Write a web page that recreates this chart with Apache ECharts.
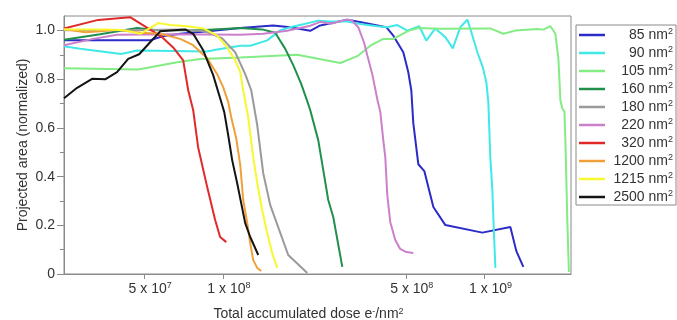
<!DOCTYPE html>
<html>
<head>
<meta charset="utf-8">
<script src="https://cdn.jsdelivr.net/npm/echarts@6/dist/echarts.min.js"></script>
<style>
  html, body { margin: 0; padding: 0; background: #fff; }
  #chart { width: 677px; height: 320px; }
</style>
</head>
<body>
<div id="chart"></div>
<script>
const FONT = "'Liberation Sans', Arial, sans-serif";
const AXIS_COLOR = "#8a8a8a";
const TEXT_COLOR = "#333";

const SIZES = ["85", "90", "105", "160", "180", "220", "320", "1200", "1215", "2500"];
const COLORS = ["#2b2bc8", "#40e8e8", "#84ec84", "#21904c", "#9a9a9a", "#cc80cc", "#e02a2a", "#f0a038", "#f8f830", "#141414"];

// dose in units of 1e8 e-/nm2, area normalized
const DOSE_85 = [0.247, 0.527, 0.586, 0.687, 0.918, 1.165, 1.557, 1.809, 1.975, 2.157, 2.355, 2.988, 3.263, 4.212, 4.481, 4.892, 5.112, 5.249, 5.342, 5.583, 5.886, 6.373, 7.084, 9.808, 12.55, 13.23, 14.07];
const AREA_85 = [0.960, 0.960, 0.977, 0.987, 0.999, 1.011, 1.021, 1.014, 1.007, 0.999, 1.021, 1.045, 1.037, 1.014, 0.979, 0.911, 0.829, 0.755, 0.620, 0.451, 0.423, 0.275, 0.201, 0.170, 0.193, 0.094, 0.029];

const DOSE_90 = [0.247, 0.2846, 0.4085, 0.470, 0.871, 0.951, 1.165, 1.272, 1.477, 1.656, 1.809, 2.028, 2.314, 2.582, 2.988, 3.35, 3.891, 4.249, 4.639, 5.068, 5.632, 5.99, 6.484, 7.084, 7.564, 8.08, 8.596, 8.905, 9.386, 9.851, 10.16, 10.34, 10.52, 10.71, 10.85, 11.0];
const AREA_90 = [0.936, 0.925, 0.904, 0.918, 0.914, 0.922, 0.938, 0.938, 0.960, 1.001, 1.014, 1.026, 1.041, 1.037, 1.037, 1.027, 1.018, 1.014, 1.023, 1.0, 1.018, 0.959, 1.009, 0.973, 0.927, 1.014, 1.045, 0.993, 0.911, 0.849, 0.788, 0.706, 0.480, 0.345, 0.181, 0.025];

const DOSE_105 = [0.247, 0.4744, 0.669, 0.819, 1.165, 1.924, 2.81, 3.263, 3.659, 4.102, 4.481, 5.112, 5.583, 6.78, 10.52, 11.80, 13.12, 15.92, 16.79, 17.85, 18.65, 19.15, 19.49, 19.84, 20.20, 20.37, 20.73, 21.01];
const AREA_105 = [0.845, 0.840, 0.870, 0.883, 0.890, 0.901, 0.867, 0.895, 0.938, 0.966, 0.966, 0.999, 1.011, 1.008, 1.009, 0.987, 1.0, 1.007, 1.004, 1.018, 0.987, 0.886, 0.714, 0.679, 0.667, 0.550, 0.209, 0.008];

const DOSE_160 = [0.247, 0.3395, 0.470, 0.561, 0.819, 1.165, 1.413, 1.585, 1.731, 1.857, 1.993, 2.101, 2.157, 2.314, 2.419, 2.527, 2.641, 2.860];
const AREA_160 = [0.962, 0.985, 1.011, 1.001, 1.001, 1.011, 1.005, 0.991, 0.925, 0.858, 0.780, 0.710, 0.673, 0.550, 0.427, 0.304, 0.234, 0.029];

const DOSE_180 = [0.247, 0.4418, 0.687, 0.856, 0.994, 1.114, 1.217, 1.283, 1.353, 1.426, 1.517, 1.777, 2.101];
const AREA_180 = [1.001, 1.001, 1.005, 0.997, 0.968, 0.911, 0.821, 0.755, 0.611, 0.414, 0.283, 0.078, 0.004];

const DOSE_220 = [0.247, 0.3192, 0.394, 0.657, 1.165, 1.426, 1.762, 2.157, 2.355, 2.582, 2.961, 3.094, 3.291, 3.470, 3.563, 3.723, 3.891, 3.996, 4.102, 4.175, 4.249, 4.363, 4.559, 4.76, 5.023, 5.342];
const AREA_220 = [0.940, 0.966, 0.983, 0.985, 0.983, 0.987, 0.999, 1.020, 1.036, 1.028, 1.045, 1.044, 1.014, 0.948, 0.899, 0.821, 0.718, 0.665, 0.550, 0.480, 0.324, 0.213, 0.140, 0.103, 0.090, 0.086];

const DOSE_320 = [0.247, 0.3335, 0.4418, 0.518, 0.586, 0.6455, 0.705, 0.737, 0.770, 0.804, 0.871, 0.934, 0.976, 1.030];
const AREA_320 = [1.009, 1.044, 1.055, 1.009, 0.973, 0.931, 0.878, 0.755, 0.673, 0.521, 0.357, 0.222, 0.152, 0.131];

const DOSE_1200 = [0.247, 0.2975, 0.3395, 0.394, 0.483, 0.576, 0.687, 0.770, 0.871, 0.951, 1.003, 1.048, 1.076, 1.124, 1.165, 1.196, 1.239, 1.272, 1.306, 1.353, 1.401];
const AREA_1200 = [1.007, 0.993, 0.997, 1.003, 0.991, 0.987, 0.966, 0.940, 0.886, 0.821, 0.767, 0.706, 0.644, 0.558, 0.447, 0.304, 0.209, 0.127, 0.057, 0.025, 0.012];

const DOSE_1215 = [0.247, 0.361, 0.423, 0.483, 0.566, 0.629, 0.730, 0.841, 0.951, 1.038, 1.114, 1.165, 1.196, 1.249, 1.306, 1.353, 1.413, 1.477, 1.543, 1.613];
const AREA_1215 = [1.005, 1.005, 1.001, 0.987, 1.031, 1.023, 1.018, 1.009, 0.979, 0.931, 0.878, 0.829, 0.755, 0.645, 0.480, 0.373, 0.263, 0.168, 0.086, 0.025];

const DOSE_2500 = [0.247, 0.2772, 0.3163, 0.3548, 0.394, 0.4344, 0.4786, 0.5227, 0.576, 0.7175, 0.770, 0.841, 0.918, 0.976, 1.012, 1.048, 1.085, 1.134, 1.217, 1.272, 1.365];
const AREA_2500 = [0.722, 0.765, 0.802, 0.800, 0.829, 0.884, 0.903, 0.948, 0.997, 1.005, 0.987, 0.919, 0.817, 0.722, 0.665, 0.570, 0.468, 0.373, 0.209, 0.152, 0.078];

const DOSES = [DOSE_85, DOSE_90, DOSE_105, DOSE_160, DOSE_180, DOSE_220, DOSE_320, DOSE_1200, DOSE_1215, DOSE_2500];
const AREAS = [AREA_85, AREA_90, AREA_105, AREA_160, AREA_180, AREA_220, AREA_320, AREA_1200, AREA_1215, AREA_2500];

const X_MIN = 2.47e7;
const X_MAX = 2.14e9;
const X_TICKS = [5e7, 1e8, 5e8, 1e9];
const X_TICK_MANT = ["5", "1", "5", "1"];
const X_TICK_EXP = ["7", "8", "8", "9"];
const Y_TICKS = [0, 0.2, 0.4, 0.6, 0.8, 1.0];

const chart = echarts.init(document.getElementById("chart"), null, { renderer: "canvas" });

// helper axis: labels/ticks at 5e7, 1e8 ... placed on a log10 scale matching the log axis
const xTickLogs = X_TICKS.map((v) => Math.log10(v));

chart.setOption({
  animation: false,
  backgroundColor: "#fff",
  textStyle: { fontFamily: FONT },
  grid: {
    left: 64,
    top: 16,
    right: 106,
    bottom: 46,
    outerBoundsMode: "none",
    show: true,
    borderColor: AXIS_COLOR,
    borderWidth: 1,
  },
  legend: {
    orient: "vertical",
    left: 576,
    top: 25,
    padding: [2, 3, 1, 3],
    icon: "rect",
    itemWidth: 26,
    itemHeight: 2.5,
    itemGap: 3,
    itemTextGap: 5,
    borderColor: AXIS_COLOR,
    borderWidth: 1,
    backgroundColor: "#fff",
    data: SIZES,
    formatter: (name) => `{n|${name} nm}{s|2}`,
    textStyle: {
      width: 63,
      color: TEXT_COLOR,
      fontFamily: FONT,
      rich: {
        n: { fontSize: 14, align: "right", lineHeight: 16, color: TEXT_COLOR, fontFamily: FONT },
        s: { fontSize: 9, align: "right", verticalAlign: "top", lineHeight: 10, color: TEXT_COLOR, fontFamily: FONT },
      },
    },
  },
  xAxis: [
    {
      type: "log",
      min: X_MIN,
      max: X_MAX,
      axisLine: { show: true, lineStyle: { color: AXIS_COLOR } },
      axisTick: { show: false },
      axisLabel: { show: false },
      splitLine: { show: false },
      name: "Total accumulated dose e{s|-}/nm{s|2}",
      nameLocation: "middle",
      nameGap: 33,
      nameTextStyle: {
        fontSize: 14,
        color: TEXT_COLOR,
        fontFamily: FONT,
        padding: [0, 18, 0, 0],
        rich: {
          s: { fontSize: 9, verticalAlign: "top", lineHeight: 10, color: TEXT_COLOR, fontFamily: FONT },
        },
      },
    },
    {
      type: "value",
      position: "bottom",
      min: Math.log10(X_MIN),
      max: Math.log10(X_MAX),
      axisLine: { show: false },
      splitLine: { show: false },
      axisTick: {
        show: true,
        customValues: xTickLogs,
        length: 5,
        lineStyle: { color: AXIS_COLOR },
      },
      axisLabel: {
        customValues: xTickLogs,
        margin: 7,
        color: TEXT_COLOR,
        fontSize: 14,
        fontFamily: FONT,
        padding: [0, 0, 0, 12],
        formatter: (v) => {
          let idx = 0;
          xTickLogs.forEach((t, i) => {
            if (Math.abs(t - v) < Math.abs(xTickLogs[idx] - v)) idx = i;
          });
          return `{b|${X_TICK_MANT[idx]} x 10}{s|${X_TICK_EXP[idx]}}`;
        },
        rich: {
          b: { fontSize: 14, lineHeight: 16, color: TEXT_COLOR, fontFamily: FONT },
          s: { fontSize: 9, verticalAlign: "top", lineHeight: 10, color: TEXT_COLOR, fontFamily: FONT },
        },
      },
    },
  ],
  yAxis: {
    type: "value",
    min: 0,
    max: 1.06,
    interval: 0.2,
    name: "Projected area (normalized)",
    nameLocation: "middle",
    nameGap: 34,
    nameMoveOverlap: false,
    nameTextStyle: { fontSize: 14, color: TEXT_COLOR, fontFamily: FONT },
    axisLine: { show: true, lineStyle: { color: AXIS_COLOR } },
    axisTick: {
      show: true,
      customValues: Y_TICKS,
      length: 7,
      lineStyle: { color: AXIS_COLOR },
    },
    minorTick: { show: true, splitNumber: 2, length: 4, lineStyle: { color: AXIS_COLOR } },
    axisLabel: {
      customValues: Y_TICKS,
      margin: 9,
      color: TEXT_COLOR,
      fontSize: 14,
      fontFamily: FONT,
      formatter: (v) => (v === 0 ? "0" : v.toFixed(1)),
    },
    splitLine: { show: false },
    minorSplitLine: { show: false },
  },
  series: SIZES.map((name, i) => ({
    name: name,
    type: "line",
    xAxisIndex: 0,
    symbol: "none",
    color: COLORS[i],
    lineStyle: { width: 2, color: COLORS[i] },
    data: DOSES[i].map((d, j) => [d * 1e8, AREAS[i][j]]),
  })),
});
</script>
</body>
</html>
